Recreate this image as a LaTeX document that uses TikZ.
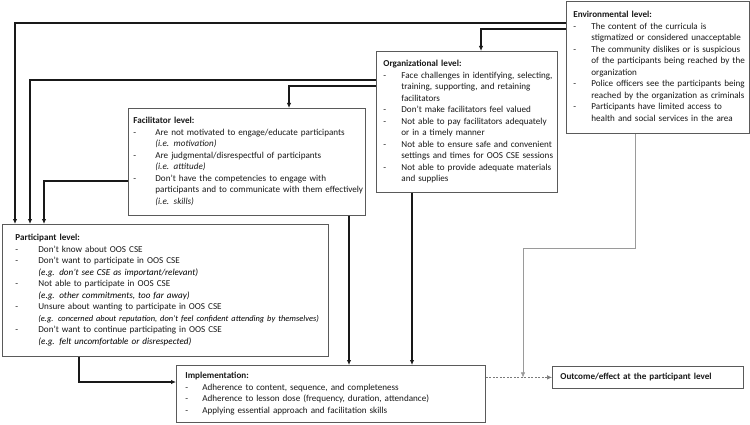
\documentclass[tikz,border=0pt]{standalone}
\usepackage{fontspec}
\setmainfont{Carlito}
\usetikzlibrary{arrows.meta}
\definecolor{boxgray}{HTML}{5A5A5A}
\definecolor{linegray}{HTML}{9A9A9A}
\definecolor{dashgray}{HTML}{7A7A7A}
\newcommand{\ttl}[1]{\multicolumn{2}{@{}l@{}}{\textbf{#1}}}
\newcommand{\egx}[1]{{\color{black}\textit{#1}}}
\begin{document}
\begin{tikzpicture}[x=1pt,y=-1pt,
  box/.style={draw=boxgray, line width=0.8pt, fill=white, align=left, anchor=north west,
    inner ysep=0pt, font=\fontsize{9.1}{11.5}\selectfont, text=black!90},
  conn/.style={draw=black!90, line width=1.1pt, -{Latex[length=5pt,width=4.5pt]}},
  grayconn/.style={draw=linegray, line width=0.6pt, -{Latex[length=5pt,width=4.5pt]}},
  dashconn/.style={draw=dashgray, line width=0.6pt, dash pattern=on 2pt off 1.5pt, -{Latex[length=5pt,width=4.5pt]}}]
\useasboundingbox (0,0) rectangle (750,425);

\node[box, text width=169pt, inner xsep=7pt, minimum height=132pt] (env) at (566,1) {%
\begin{tabular}{@{}p{18pt}@{}l@{}}
\ttl{Environmental level:}\\
- & The content of the curricula is\\
  & stigmatized or considered unacceptable\\
- & The community dislikes or is suspicious\\
  & of the participants being reached by the\\
  & organization\\
- & Police officers see the participants being\\
  & reached by the organization as criminals\\
- & Participants have limited access to\\
  & health and social services in the area
\end{tabular}};

\node[box, text width=167pt, inner xsep=7pt, minimum height=141pt] (org) at (376,51) {%
\begin{tabular}{@{}p{18pt}@{}l@{}}
\ttl{Organizational level:}\\
- & Face challenges in identifying, selecting,\\
  & training, supporting, and retaining\\
  & facilitators\\
- & Don’t make facilitators feel valued\\
- & Not able to pay facilitators adequately\\
  & or in a timely manner\\
- & Not able to ensure safe and convenient\\
  & settings and times for OOS CSE sessions\\
- & Not able to provide adequate materials\\
  & and supplies
\end{tabular}};

\node[box, text width=227pt, inner xsep=5pt, minimum height=107pt] (fac) at (128,108) {%
\begin{tabular}{@{}p{22pt}@{}l@{}}
\ttl{Facilitator level:}\\
- & Are not motivated to engage/educate participants\\
  & \textit{(i.e. motivation)}\\
- & Are judgmental/disrespectful of participants\\
  & \textit{(i.e. attitude)}\\
- & Don’t have the competencies to engage with\\
  & participants and to communicate with them effectively\\
  & \textit{(i.e. skills)}
\end{tabular}};

\node[box, text width=300pt, inner xsep=13pt, minimum height=132pt] (part) at (2,224) {%
\begin{tabular}{@{}p{23pt}@{}l@{}}
\ttl{Participant level:}\\
- & Don’t know about OOS CSE\\
- & Don’t want to participate in OOS CSE\\
  & \egx{(e.g. don’t see CSE as important/relevant)}\\
- & Not able to participate in OOS CSE\\
  & \egx{(e.g. other commitments, too far away)}\\
- & Unsure about wanting to participate in OOS CSE\\
  & {\fontsize{8.4}{11.5}\selectfont\egx{(e.g. concerned about reputation, don’t feel confident attending by themselves)}}\\
- & Don’t want to continue participating in OOS CSE\\
  & \egx{(e.g. felt uncomfortable or disrespected)}
\end{tabular}};

\node[box, text width=291pt, inner xsep=9pt, minimum height=57pt] (impl) at (176,365) {%
\begin{tabular}{@{}p{17pt}@{}l@{}}
\ttl{Implementation:}\\
- & Adherence to content, sequence, and completeness\\
- & Adherence to lesson dose (frequency, duration, attendance)\\
- & Applying essential approach and facilitation skills
\end{tabular}};

\node[box, text width=175pt, inner xsep=8pt, minimum height=22pt] (out) at (552,366) {\textbf{Outcome/effect at the participant level}};

% connectors
\draw[conn] ([yshift=-22pt]env.north west) -| ([xshift=13pt]part.north west);
\draw[conn] ([yshift=-29pt]org.north west) -| ([xshift=28pt]part.north west);
\draw[conn] ([yshift=-73pt]fac.north west) -| ([xshift=42pt]part.north west);
\draw[conn] ([yshift=-28pt]env.north west) -| ([xshift=105pt]org.north west);
\draw[conn] ([yshift=-35pt]org.north west) -| ([xshift=161pt]fac.north west);
\draw[conn] ([xshift=221pt]fac.south west) -- ([xshift=173pt]impl.north west);
\draw[conn] ([xshift=36pt]org.south west) -- ([xshift=236pt]impl.north west);
\draw[conn] ([xshift=77pt]part.south west) |- ([yshift=-17pt]impl.north west);
\draw[dashconn] (impl.east |- out.west) -- (out.west);
\coordinate (bend) at (523,248);
\draw[grayconn] ([xshift=69pt]env.south west) |- (bend) -- (bend |- out.west);
\end{tikzpicture}
\end{document}
